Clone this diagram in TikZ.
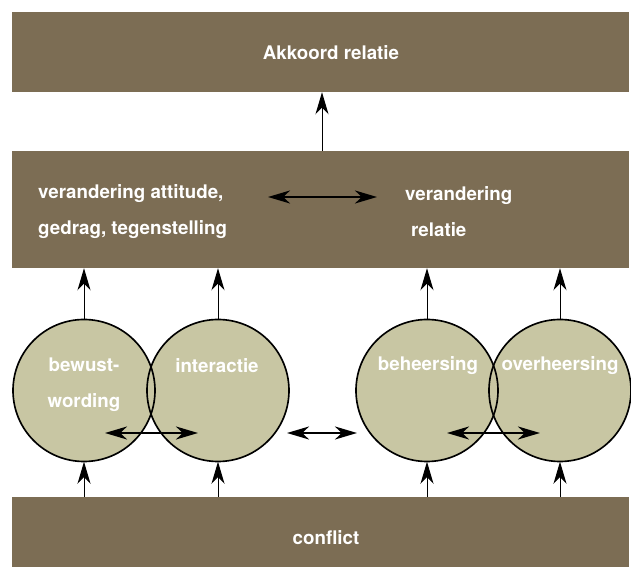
\documentclass[tikz,border=0pt]{standalone}
\usepackage{fontspec}
\setmainfont{TeX Gyre Heros}
\usetikzlibrary{arrows.meta}
\definecolor{boxbrown}{RGB}{124,109,84}
\definecolor{discfill}{RGB}{200,198,163}
\tikzset{
  bar/.style={fill=boxbrown, minimum width=18.51cm, inner sep=0pt},
  disc/.style={circle, minimum size=4.26cm, inner sep=0pt},
  lbl/.style={text=white, inner sep=0pt, font=\bfseries\fontsize{16}{30.5}\selectfont},
  up/.style={-{Stealth[length=6.6mm,width=3.9mm,inset=2mm]}, line width=0.8pt},
  both/.style={{Stealth[length=6.6mm,width=3.9mm,inset=2mm]}-{Stealth[length=6.6mm,width=3.9mm,inset=2mm]}, line width=1.7pt},
}

\begin{document}
\begin{tikzpicture}[x=0.03cm, y=-0.03cm]
\useasboundingbox (0,0) rectangle (631,571);
\node[bar, minimum height=2.4cm] (top) at (320.5,52) {};
\node[bar, minimum height=3.51cm] (mid) at (320.5,209.5) {};
\node[bar, minimum height=2.1cm] (base) at (320.5,532) {};
\node[lbl] (akkoord) at (331,53) {Akkoord relatie};
\node[lbl, anchor=west, align=left] (attitude) at (38,211.5) {verandering attitude,\\gedrag, tegenstelling};
\node[lbl, anchor=west, align=left] (relatie) at (405,211.5) {verandering\\\hspace{5pt}relatie};
\node[lbl] (conflict) at (326,538) {conflict};
\foreach \n/\x in {c1/84, c2/218, c3/427, c4/560}
  \node[disc, fill=discfill] (\n) at (\x,390.5) {};
\foreach \n in {c1,c2,c3,c4}
  \node[disc, draw, line width=1.4pt] at (\n) {};
\node[lbl, align=center] (bewust) at (84,384.5) {bewust-\\wording};
\node[lbl] (interactie) at (217,366) {interactie};
\node[lbl] (beheersing) at (428,366) {beheersing};
\node[lbl] (overheersing) at (560,366) {overheersing};
\foreach \n in {c1,c2,c3,c4} {
  \draw[up] (\n |- base.north) -- (\n.south);
  \draw[up] (\n.north) -- (\n |- mid.south);
}
\coordinate (t) at (322,0);
\draw[up] (t |- mid.north) -- (t |- top.south);
\coordinate (m1) at (268,197);
\coordinate (m2) at (377,197);
\coordinate (l1) at (105,433);
\coordinate (l2) at (198,433);
\coordinate (k1) at (287,433);
\coordinate (k2) at (357,433);
\coordinate (r1) at (447,433);
\coordinate (r2) at (540,433);
\draw[both] (m1) -- (m2);
\draw[both] (l1) -- (l2);
\draw[both] (k1) -- (k2);
\draw[both] (r1) -- (r2);
\end{tikzpicture}
\end{document}
